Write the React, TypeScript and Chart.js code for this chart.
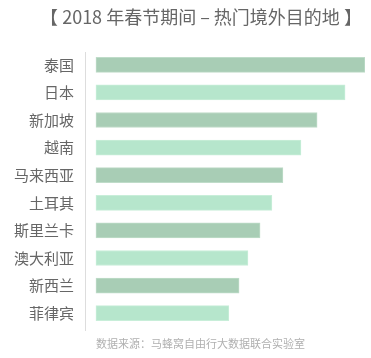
import React, { useEffect, useRef } from "react";
import { Chart, registerables } from "chart.js";

Chart.register(...registerables);

const titleText = "【 2018 年春节期间 – 热门境外目的地 】";
const sourceText = "数据来源：马蜂窝自由行大数据联合实验室";
const destinations = ["泰国", "日本", "新加坡", "越南", "马来西亚", "土耳其", "斯里兰卡", "澳大利亚", "新西兰", "菲律宾"];
const popularity = [100, 92.6, 82.2, 76.2, 69.5, 65.4, 61.0, 56.5, 53.2, 49.4];
const barColors = ["#a8cdb5", "#b6e6cc"];
const barEdgeColors = ["#bfdcc9", "#c8eed9"];

const FONT = "'Noto Sans CJK SC', 'Noto Sans', sans-serif";

const textPlugin = {
  id: "texts",
  afterDraw(chart: any) {
    const ctx = chart.ctx;
    const area = chart.chartArea;
    ctx.save();
    // axis line
    ctx.strokeStyle = "#dddddd";
    ctx.lineWidth = 1;
    ctx.beginPath();
    ctx.moveTo(Math.round(area.left) - 0.5, area.top + 1);
    ctx.lineTo(Math.round(area.left) - 0.5, area.bottom + 4);
    ctx.stroke();
    ctx.fillStyle = "#666666";
    ctx.font = `18px ${FONT}`;
    ctx.textAlign = "center";
    ctx.textBaseline = "middle";
    ctx.fillText(titleText, 201, 17);
    ctx.fillStyle = "#b0b0b0";
    ctx.font = `11px ${FONT}`;
    ctx.textAlign = "left";
    const x0 = chart.scales.x.getPixelForValue(0);
    ctx.fillText(sourceText, x0, 344);
    ctx.restore();
  },
};

export default function App() {
  const ref = useRef<HTMLCanvasElement | null>(null);
  useEffect(() => {
    if (!ref.current) return;
    const chart = new Chart(ref.current, {
      type: "bar",
      data: {
        labels: destinations,
        datasets: [
          {
            data: popularity,
            backgroundColor: destinations.map((_, i) => barColors[i % 2]),
            borderColor: destinations.map((_, i) => barEdgeColors[i % 2]),
            borderWidth: 1,
            borderSkipped: false,
            barThickness: 15,
          },
        ],
      },
      options: {
        indexAxis: "y",
        animation: false,
        responsive: true,
        maintainAspectRatio: false,
        layout: { padding: { top: 51, bottom: 31, right: 6, left: 2 } },
        plugins: {
          legend: { display: false },
          tooltip: { enabled: false },
          title: { display: false },
        },
        scales: {
          x: {
            display: false,
            min: -3.7,
            max: 100,
          },
          y: {
            grid: { display: false, drawTicks: false },
            border: { display: false },
            ticks: {
              color: "#666666",
              padding: 12,
              font: { family: FONT, size: 15 },
            },
          },
        },
      },
      plugins: [textPlugin],
    });
    return () => chart.destroy();
  }, []);
  return (
    <div style={{ position: "fixed", left: 0, top: 0, width: 371, height: 358, background: "#ffffff" }}>
      <canvas ref={ref} />
    </div>
  );
}
